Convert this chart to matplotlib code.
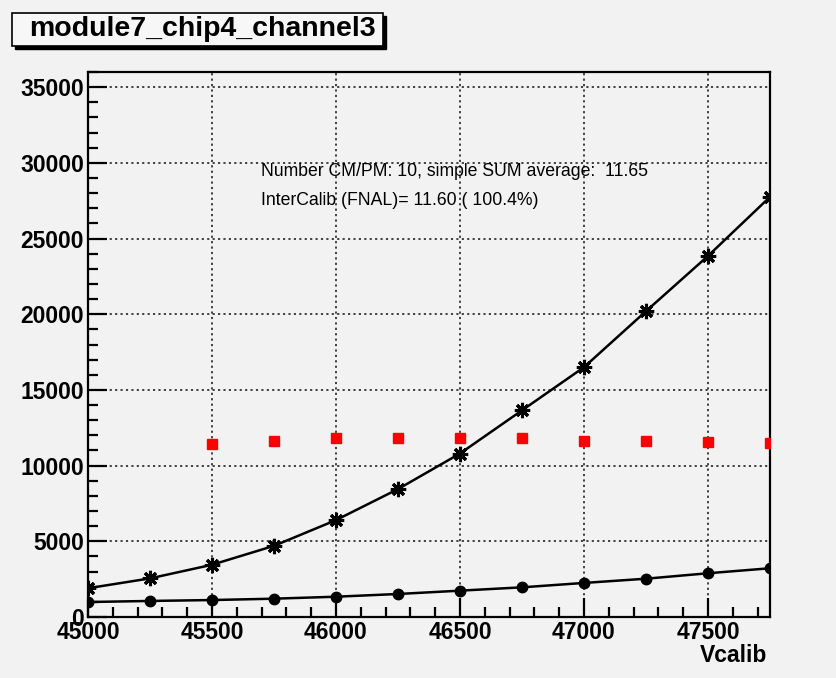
import matplotlib
matplotlib.use('Agg')
import matplotlib.pyplot as plt
from matplotlib.patches import Rectangle
from matplotlib.ticker import MultipleLocator

plt.rcParams['font.family'] = ['Liberation Sans', 'DejaVu Sans']

# Vcalib scan points
vcalib = [45000, 45250, 45500, 45750, 46000, 46250, 46500, 46750, 47000, 47250, 47500, 47750]
# upper curve (asterisk markers)
sum_signal = [1900, 2550, 3450, 4700, 6400, 8450, 10800, 13650, 16500, 20200, 23850, 27750]
# lower curve (circle markers)
cm_signal = [990, 1060, 1120, 1210, 1340, 1520, 1740, 1960, 2250, 2530, 2890, 3220]
# ratio points (red squares, x1000)
ratio_x = [45500, 45750, 46000, 46250, 46500, 46750, 47000, 47250, 47500, 47750]
ratio_y = [11400, 11650, 11800, 11800, 11850, 11850, 11600, 11600, 11550, 11500]

title = 'module7_chip4_channel3'
info1 = 'Number CM/PM: 10, simple SUM average:  11.65'
info2 = 'InterCalib (FNAL)= 11.60 ( 100.4%)'

bg = '#f2f2f2'
W, H = 837, 678
fig = plt.figure(figsize=(W / 100, H / 100), dpi=100, facecolor=bg)
ax = fig.add_axes([88 / W, 1 - 617 / H, (770 - 88) / W, (617 - 72) / H])
ax.set_facecolor(bg)

# title box with shadow
fig.patches.append(Rectangle((15 / W, 1 - 49 / H), 371 / W, 33 / H, transform=fig.transFigure,
                             facecolor='black', edgecolor='black', zorder=1))
fig.patches.append(Rectangle((12 / W, 1 - 46 / H), 371 / W, 33 / H, transform=fig.transFigure,
                             facecolor='#f7f7f7', edgecolor='black', linewidth=1.2, zorder=2))
fig.text(202 / W, 1 - 29 / H, title, ha='center', va='center', fontsize=20.5, fontweight='bold', zorder=3)

ax.plot(vcalib, sum_signal, color='black', lw=1.8, marker=(8, 2, 0), ms=11, mew=2.2, zorder=4)
ax.plot(vcalib, cm_signal, color='black', lw=1.8, marker='o', ms=7.5, zorder=4)
ax.plot(ratio_x, ratio_y, ls='none', marker='s', color='#ff0000', ms=6.5, zorder=5)

ax.set_xlim(45000, 47750)
ax.set_ylim(0, 36000)
ax.xaxis.set_major_locator(MultipleLocator(500))
ax.xaxis.set_minor_locator(MultipleLocator(100))
ax.yaxis.set_major_locator(MultipleLocator(5000))
ax.yaxis.set_minor_locator(MultipleLocator(1000))
ax.grid(True, which='major', color='#333333', ls=(0, (1.2, 1.8)), lw=1.3)
ax.set_axisbelow(True)

ax.tick_params(which='both', direction='in', top=False, right=False, width=1.6, colors='black')
ax.tick_params(which='major', length=14, labelsize=16.5, pad=3)
ax.tick_params(which='minor', length=7)
for lab in ax.get_xticklabels() + ax.get_yticklabels():
    lab.set_fontweight('bold')
for sp in ax.spines.values():
    sp.set_linewidth(1.6)

ax.text(45698, 29460, info1, fontsize=12.7, va='center', ha='left')
ax.text(45698, 27480, info2, fontsize=12.7, va='center', ha='left')

fig.text(767 / W, 1 - 656 / H, 'Vcalib', ha='right', va='center', fontsize=16.5, fontweight='bold')

fig.savefig('out.png', dpi=100, facecolor=bg)
